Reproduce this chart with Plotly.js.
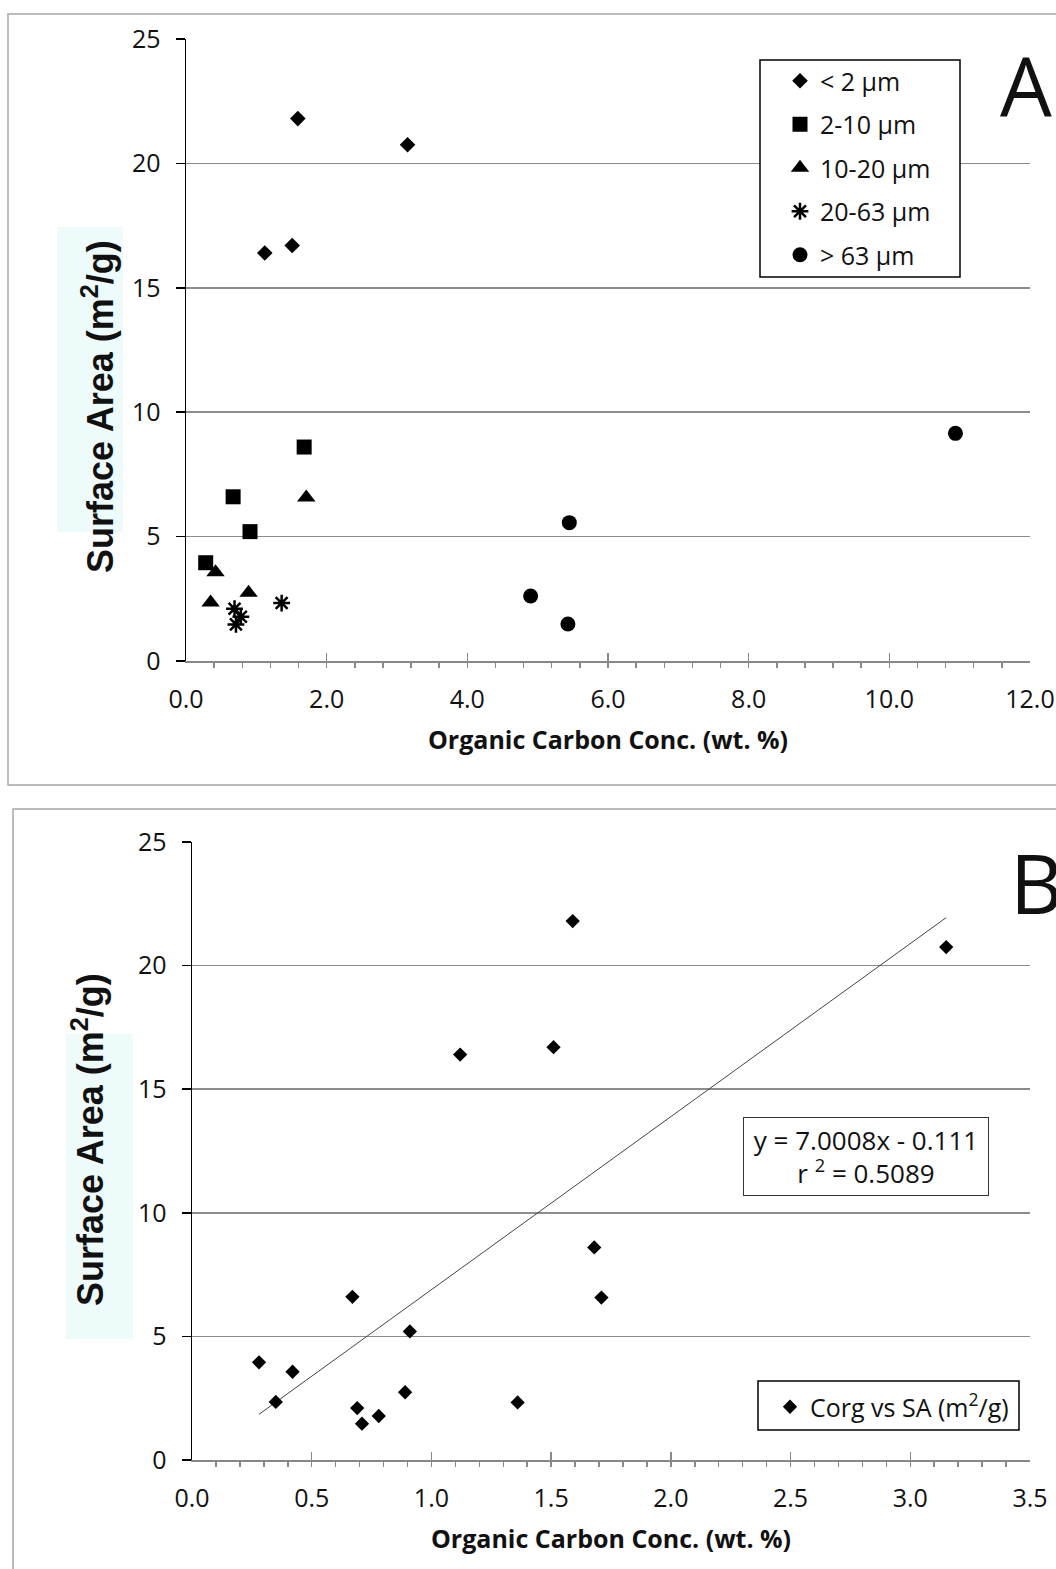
<!DOCTYPE html>
<html><head><meta charset="utf-8">
<script src="https://cdn.plot.ly/plotly-3.0.1.min.js"></script>
<style>html,body{margin:0;padding:0;background:#fff}#chart{width:1056px;height:1569px}</style>
</head><body><div id="chart"></div>
<script>
// ---- data ----
const seriesNames = ['< 2 µm', '2-10 µm', '10-20 µm', '20-63 µm', '> 63 µm'];
const lt2X   = [1.59, 3.15, 1.12, 1.51];
const lt2Y   = [21.8, 20.75, 16.4, 16.7];
const s2_10X = [1.68, 0.67, 0.91, 0.28];
const s2_10Y = [8.6, 6.6, 5.2, 3.95];
const s10_20X = [1.71, 0.42, 0.35, 0.89];
const s10_20Y = [6.57, 3.57, 2.35, 2.74];
const s20_63X = [0.69, 0.78, 0.71, 1.36];
const s20_63Y = [2.1, 1.78, 1.47, 2.33];
const gt63X  = [10.94, 5.45, 4.90, 5.43];
const gt63Y  = [9.15, 5.56, 2.61, 1.49];
const fitSlope = 7.0008;
const fitIntercept = -0.111;
const fitR2 = 0.5089;
const nameB = 'Corg vs SA (m<sup>2</sup>/g)';

// ---- helpers ----
const W = 1056, H = 1569;
const px = v => v / W;
const py = v => 1 - v / H;

const bX = [].concat(lt2X, s2_10X, s10_20X, s20_63X);
const bY = [].concat(lt2Y, s2_10Y, s10_20Y, s20_63Y);
const fitX = [Math.min(...bX), Math.max(...bX)];
const fitY = fitX.map(v => fitSlope * v + fitIntercept);

const black = '#000';
const traces = [
  {x: lt2X, y: lt2Y, name: seriesNames[0], marker: {symbol: 'diamond', size: 12, color: black}},
  {x: s2_10X, y: s2_10Y, name: seriesNames[1], marker: {symbol: 'square', size: 15, color: black}},
  {x: s10_20X, y: s10_20Y, name: seriesNames[2], marker: {symbol: 'triangle-up', size: 16, color: black}},
  {x: s20_63X, y: s20_63Y, name: seriesNames[3], marker: {symbol: 'asterisk-open', size: 14, color: black, line: {color: black, width: 2.5}}},
  {x: gt63X, y: gt63Y, name: seriesNames[4], marker: {symbol: 'circle', size: 15, color: black}}
].map((t, i) => Object.assign({type: 'scatter', mode: 'markers', xaxis: 'x', yaxis: 'y',
  legend: 'legend', legendgroup: 'g' + i, hoverinfo: 'x+y'}, t));

traces.push({type: 'scatter', mode: 'lines', x: fitX, y: fitY, xaxis: 'x2', yaxis: 'y2',
  showlegend: false, line: {color: '#444', width: 1}, hoverinfo: 'skip'});
traces.push({type: 'scatter', mode: 'markers', x: bX, y: bY, xaxis: 'x2', yaxis: 'y2',
  name: nameB, legend: 'legend2', marker: {symbol: 'diamond', size: 11, color: black}});

const tickFont = {family: 'Open Sans', size: 25, color: '#111'};
const titleFont = {family: 'Open Sans', size: 25, color: '#111', weight: 700};

function xAxis(domain, range, dtick, minorDtick, anchor) {
  return {
    domain: domain, range: range, anchor: anchor, tick0: 0, dtick: dtick, tickformat: '.1f',
    ticks: 'inside', ticklen: 8, tickwidth: 1.5, tickcolor: '#888',
    showline: true, linecolor: '#888', linewidth: 1.5, showgrid: false, zeroline: false,
    minor: {dtick: minorDtick, tick0: 0, ticks: 'outside', ticklen: 5, tickwidth: 1.5, tickcolor: '#888', showgrid: false},
    tickfont: tickFont, ticklabelstandoff: 15,
    title: {text: 'Organic Carbon Conc. (wt. %)', font: titleFont, standoff: 18},
    fixedrange: true
  };
}
function yAxis(domain, anchor) {
  return {
    domain: domain, range: [0, 25], anchor: anchor, tick0: 0, dtick: 5,
    ticks: 'outside', ticklen: 9, tickwidth: 1.5, tickcolor: '#000',
    showline: true, linecolor: '#000', linewidth: 1.5,
    showgrid: true, gridcolor: '#8c8c8c', gridwidth: 1.5, zeroline: false,
    tickfont: tickFont, ticklabelstandoff: 10, fixedrange: true
  };
}

const yTitle = 'Surface Area (m<sup>2</sup>/g)';
const yTitleFont = {family: 'Liberation Sans', size: 36, color: '#111', weight: 700};

const layout = {
  width: W, height: H, margin: {l: 0, r: 0, t: 0, b: 0},
  paper_bgcolor: '#fff', plot_bgcolor: 'rgba(0,0,0,0)',
  font: {family: 'Open Sans', color: '#111'},
  xaxis: xAxis([px(186), px(1030)], [0, 12], 2, 0.4, 'y'),
  yaxis: yAxis([py(661), py(39)], 'x'),
  xaxis2: xAxis([px(192), px(1030)], [0, 3.5], 0.5, 0.1, 'y2'),
  yaxis2: yAxis([py(1460), py(842)], 'x2'),
  legend: {x: px(780), y: py(58), xanchor: 'left', yanchor: 'top', bgcolor: 'rgba(0,0,0,0)',
    borderwidth: 0, font: {family: 'Open Sans', size: 25, color: '#111'}, traceorder: 'grouped', tracegroupgap: 8},
  legend2: {x: px(770), y: py(1384), xanchor: 'left', yanchor: 'top', bgcolor: 'rgba(0,0,0,0)',
    borderwidth: 0, font: {family: 'Open Sans', size: 25, color: '#111'}},
  shapes: [
    {type: 'rect', xref: 'paper', yref: 'paper', x0: px(8), x1: px(1070), y0: py(14), y1: py(785),
      line: {color: '#a6a6a6', width: 1.5}, layer: 'below'},
    {type: 'rect', xref: 'paper', yref: 'paper', x0: px(13), x1: px(1070), y0: py(809), y1: py(1590),
      line: {color: '#a6a6a6', width: 1.5}, layer: 'below'},
    {type: 'rect', xref: 'paper', yref: 'paper', x0: px(57), x1: px(123), y0: py(227), y1: py(532),
      fillcolor: '#eefbfb', line: {width: 0}, layer: 'below'},
    {type: 'rect', xref: 'paper', yref: 'paper', x0: px(66), x1: px(133), y0: py(1034), y1: py(1339),
      fillcolor: '#eefbfb', line: {width: 0}, layer: 'below'},
    {type: 'rect', xref: 'paper', yref: 'paper', x0: px(760), x1: px(960), y0: py(60), y1: py(277),
      fillcolor: '#fff', line: {color: '#000', width: 1.5}, layer: 'above'},
    {type: 'rect', xref: 'paper', yref: 'paper', x0: px(758), x1: px(1019), y0: py(1381), y1: py(1430),
      fillcolor: '#fff', line: {color: '#000', width: 1.5}, layer: 'above'}
  ],
  annotations: [
    {xref: 'paper', yref: 'paper', x: px(98), y: py(407), text: yTitle, textangle: -90,
      showarrow: false, xanchor: 'center', yanchor: 'middle', font: yTitleFont},
    {xref: 'paper', yref: 'paper', x: px(88), y: py(1140), text: yTitle, textangle: -90,
      showarrow: false, xanchor: 'center', yanchor: 'middle', font: yTitleFont},
    {xref: 'paper', yref: 'paper', x: px(998), y: py(85), text: 'A', showarrow: false,
      xanchor: 'left', yanchor: 'middle', font: {family: 'Open Sans', size: 82, color: '#111'}},
    {xref: 'paper', yref: 'paper', x: px(1008), y: py(882), text: 'B', showarrow: false,
      xanchor: 'left', yanchor: 'middle', font: {family: 'Open Sans', size: 82, color: '#111'}},
    {xref: 'paper', yref: 'paper', x: px(866), y: py(1156.5), showarrow: false,
      text: 'y = ' + fitSlope.toFixed(4) + 'x - ' + Math.abs(fitIntercept).toFixed(3) + '<br>r <sup>2</sup> = ' + fitR2.toFixed(4),
      xanchor: 'center', yanchor: 'middle', align: 'center', width: 240, height: 73,
      bordercolor: '#333', borderwidth: 1, borderpad: 2, bgcolor: '#fff',
      font: {family: 'Open Sans', size: 26, color: '#111'}}
  ]
};

Plotly.newPlot('chart', traces, layout, {displayModeBar: false, staticPlot: true});
</script>
</body></html>
